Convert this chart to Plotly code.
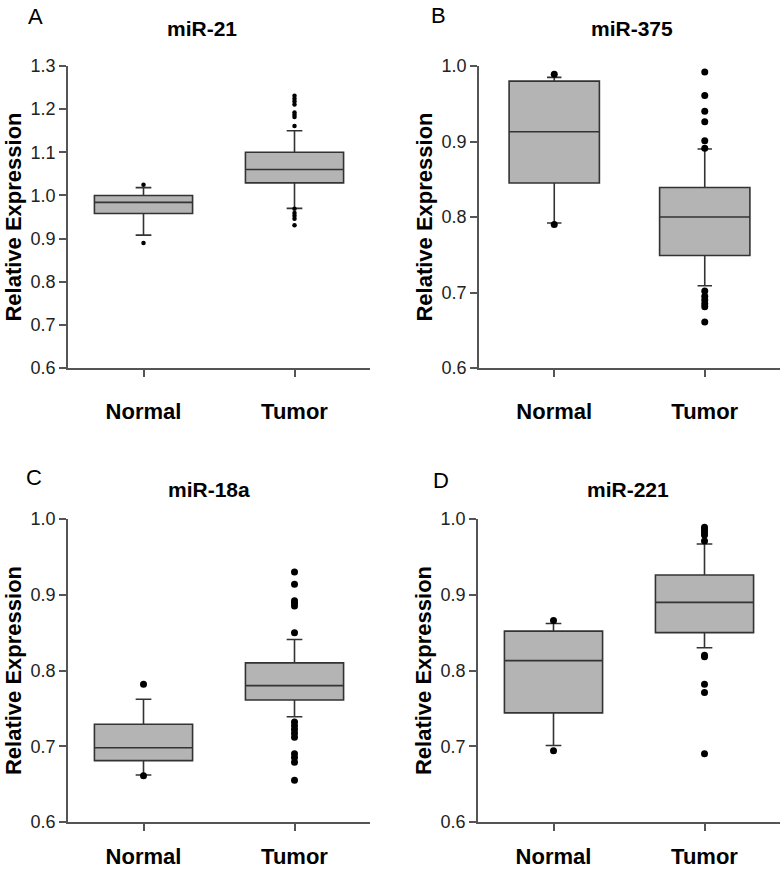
import plotly.graph_objects as go

# ---------------- data ----------------
categories = ["Normal", "Tumor"]

panel_titles = ["miR-21", "miR-375", "miR-18a", "miR-221"]
panel_letters = ["A", "B", "C", "D"]

# Panel A: miR-21
a_q1 = [0.958, 1.029]
a_median = [0.984, 1.060]
a_q3 = [1.000, 1.100]
a_lower = [0.908, 0.970]
a_upper = [1.018, 1.150]
a_normal_outliers = [1.025, 0.890]
a_tumor_outliers = [1.231, 1.224, 1.218, 1.211, 1.192, 1.187, 1.182, 1.161,
                    0.969, 0.959, 0.953, 0.946, 0.931]

# Panel B: miR-375
b_q1 = [0.845, 0.749]
b_median = [0.913, 0.800]
b_q3 = [0.980, 0.839]
b_lower = [0.792, 0.709]
b_upper = [0.985, 0.890]
b_normal_outliers = [0.989, 0.790]
b_tumor_outliers = [0.992, 0.961, 0.940, 0.926, 0.901, 0.891,
                    0.702, 0.695, 0.690, 0.685, 0.681, 0.661]

# Panel C: miR-18a
c_q1 = [0.681, 0.761]
c_median = [0.698, 0.780]
c_q3 = [0.729, 0.810]
c_lower = [0.662, 0.739]
c_upper = [0.762, 0.841]
c_normal_outliers = [0.782, 0.661]
c_tumor_outliers = [0.930, 0.914, 0.892, 0.889, 0.885, 0.850,
                    0.732, 0.727, 0.722, 0.717, 0.712, 0.690, 0.685, 0.679, 0.655]

# Panel D: miR-221
d_q1 = [0.744, 0.850]
d_median = [0.813, 0.890]
d_q3 = [0.852, 0.926]
d_lower = [0.701, 0.830]
d_upper = [0.862, 0.967]
d_normal_outliers = [0.866, 0.694]
d_tumor_outliers = [0.989, 0.986, 0.983, 0.979, 0.971,
                    0.820, 0.818, 0.782, 0.771, 0.690]

y_ranges = [[0.6, 1.3], [0.6, 1.0], [0.6, 1.0], [0.6, 1.0]]
y_tick_values = [[0.6, 0.7, 0.8, 0.9, 1.0, 1.1, 1.2, 1.3],
                 [0.6, 0.7, 0.8, 0.9, 1.0],
                 [0.6, 0.7, 0.8, 0.9, 1.0],
                 [0.6, 0.7, 0.8, 0.9, 1.0]]

# ---------------- style ----------------
W, H = 784, 870
FONT = "Liberation Sans, Arial, sans-serif"
BOX_FILL = "#b4b4b4"
LINE_COL = "#333333"
AXIS_COL = "#555555"

# plot areas in pixels (left, right, top, bottom)
areas = [(68, 370, 66, 368), (479, 780, 66, 368),
         (68, 370, 519, 822), (478, 780, 519, 822)]
box_widths = [0.65, 0.6, 0.65, 0.65]
marker_sizes = [4.5, 7, 7, 7]
xlabel_standoff = [16, 16, 7, 7]

panels = [
    (a_q1, a_median, a_q3, a_lower, a_upper, a_normal_outliers, a_tumor_outliers),
    (b_q1, b_median, b_q3, b_lower, b_upper, b_normal_outliers, b_tumor_outliers),
    (c_q1, c_median, c_q3, c_lower, c_upper, c_normal_outliers, c_tumor_outliers),
    (d_q1, d_median, d_q3, d_lower, d_upper, d_normal_outliers, d_tumor_outliers),
]

fig = go.Figure()
layout = dict(
    width=W, height=H,
    margin=dict(l=0, r=0, t=0, b=0, autoexpand=False),
    paper_bgcolor="white", plot_bgcolor="white",
    showlegend=False,
    font=dict(family=FONT, color="#222222"),
)

for i, (q1, med, q3, lo, hi, nout, tout) in enumerate(panels):
    n = "" if i == 0 else str(i + 1)
    xa, ya = "x" + n, "y" + n
    fig.add_trace(go.Box(
        x=categories, q1=q1, median=med, q3=q3,
        lowerfence=lo, upperfence=hi,
        width=box_widths[i], whiskerwidth=0.16,
        fillcolor=BOX_FILL, line=dict(color=LINE_COL, width=1.6),
        boxpoints=False, xaxis=xa, yaxis=ya,
    ))
    fig.add_trace(go.Scatter(
        x=[categories[0]] * len(nout) + [categories[1]] * len(tout),
        y=list(nout) + list(tout), mode="markers",
        marker=dict(color="black", size=marker_sizes[i]),
        xaxis=xa, yaxis=ya,
    ))
    l, r, t, b = areas[i]
    layout["xaxis" + n] = dict(
        domain=[l / W, r / W], anchor=ya, automargin=False,
        range=[-0.5, 1.5], type="category",
        showline=True, linecolor=AXIS_COL, linewidth=1.5,
        ticks="outside", ticklen=7, tickcolor=AXIS_COL, tickwidth=1.5,
        showgrid=False, zeroline=False,
        tickfont=dict(family=FONT, size=22, color="black", weight="bold"),
        ticklabelstandoff=xlabel_standoff[i],
    )
    layout["yaxis" + n] = dict(
        domain=[1 - b / H, 1 - t / H], anchor=xa, automargin=False,
        range=y_ranges[i], tickvals=y_tick_values[i], tickformat=".1f",
        showline=True, linecolor=AXIS_COL, linewidth=1.5,
        ticks="outside", ticklen=7, tickcolor=AXIS_COL, tickwidth=1.5,
        showgrid=False, zeroline=False,
        tickfont=dict(family=FONT, size=18, color="#222222"),
        title=dict(text="Relative Expression", standoff=3,
                   font=dict(family=FONT, size=22, color="black", weight="bold")),
    )

# title and letter positions (pixels)
title_pos = [(202, 29), (632, 29), (209, 489), (628, 489)]
letter_pos = [(35, 16), (438, 15), (34, 478), (441, 481)]
annotations = []
for i in range(4):
    tx, ty = title_pos[i]
    annotations.append(dict(
        text="<b>" + panel_titles[i] + "</b>", xref="paper", yref="paper",
        x=tx / W, y=1 - ty / H, xanchor="center", yanchor="middle",
        showarrow=False, font=dict(family=FONT, size=21, color="black")))
    lx, ly = letter_pos[i]
    annotations.append(dict(
        text=panel_letters[i], xref="paper", yref="paper",
        x=lx / W, y=1 - ly / H, xanchor="center", yanchor="middle",
        showarrow=False, font=dict(family=FONT, size=22, color="black")))
layout["annotations"] = annotations

fig.update_layout(**layout)
fig.write_html("out.html",
               config={"displayModeBar": False},
               post_script="document.body.style.margin='0';document.body.style.padding='0';")
